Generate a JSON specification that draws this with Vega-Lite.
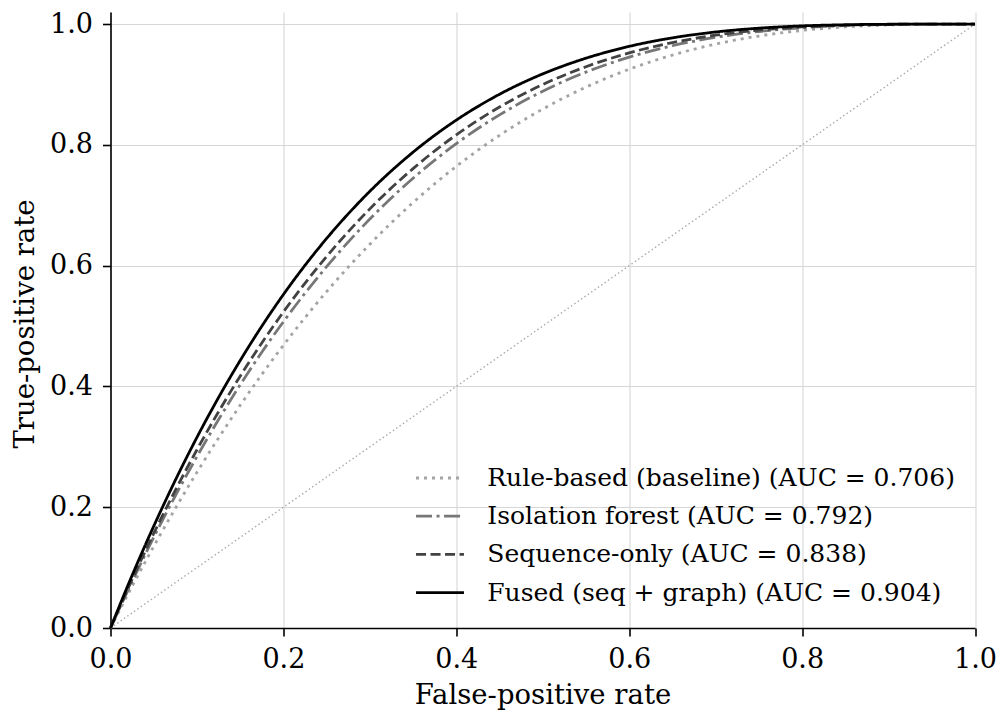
{
  "$schema": "https://vega.github.io/schema/vega-lite/v6.json",
  "autosize": {"type": "none"},
  "padding": {"left": 110.5, "top": 12, "right": 25, "bottom": 83},
  "width": 864.5,
  "height": 616,
  "background": "white",
  "config": {
    "view": {"stroke": null},
    "font": "DejaVu Serif",
    "axis": {
      "labelFont": "DejaVu Serif",
      "labelFontSize": 27,
      "labelColor": "black",
      "titleFont": "DejaVu Serif",
      "titleFontSize": 27.5,
      "titleFontWeight": "normal",
      "titleColor": "black",
      "domainColor": "black",
      "domainWidth": 1.6,
      "tickColor": "black",
      "tickWidth": 1.6,
      "tickSize": 8,
      "labelPadding": 10,
      "labelFlush": false,
      "labelOverlap": false,
      "gridColor": "#d6d6d6",
      "gridWidth": 1.1
    },
    "legend": {
      "labelFont": "DejaVu Serif",
      "labelFontSize": 25,
      "labelColor": "black",
      "labelLimit": 1000
    }
  },
  "datasets": {
    "curves": [
      {"model": "Rule-based (baseline) (AUC = 0.706)", "fpr": 0, "tpr": 0},
      {"model": "Rule-based (baseline) (AUC = 0.706)", "fpr": 0.025, "tpr": 0.0691},
      {"model": "Rule-based (baseline) (AUC = 0.706)", "fpr": 0.05, "tpr": 0.1351},
      {"model": "Rule-based (baseline) (AUC = 0.706)", "fpr": 0.075, "tpr": 0.198},
      {"model": "Rule-based (baseline) (AUC = 0.706)", "fpr": 0.1, "tpr": 0.2578},
      {"model": "Rule-based (baseline) (AUC = 0.706)", "fpr": 0.125, "tpr": 0.3147},
      {"model": "Rule-based (baseline) (AUC = 0.706)", "fpr": 0.15, "tpr": 0.3687},
      {"model": "Rule-based (baseline) (AUC = 0.706)", "fpr": 0.175, "tpr": 0.4198},
      {"model": "Rule-based (baseline) (AUC = 0.706)", "fpr": 0.2, "tpr": 0.4682},
      {"model": "Rule-based (baseline) (AUC = 0.706)", "fpr": 0.25, "tpr": 0.557},
      {"model": "Rule-based (baseline) (AUC = 0.706)", "fpr": 0.3, "tpr": 0.6355},
      {"model": "Rule-based (baseline) (AUC = 0.706)", "fpr": 0.35, "tpr": 0.7045},
      {"model": "Rule-based (baseline) (AUC = 0.706)", "fpr": 0.4, "tpr": 0.7644},
      {"model": "Rule-based (baseline) (AUC = 0.706)", "fpr": 0.45, "tpr": 0.8158},
      {"model": "Rule-based (baseline) (AUC = 0.706)", "fpr": 0.5, "tpr": 0.8593},
      {"model": "Rule-based (baseline) (AUC = 0.706)", "fpr": 0.55, "tpr": 0.8956},
      {"model": "Rule-based (baseline) (AUC = 0.706)", "fpr": 0.6, "tpr": 0.9252},
      {"model": "Rule-based (baseline) (AUC = 0.706)", "fpr": 0.65, "tpr": 0.9487},
      {"model": "Rule-based (baseline) (AUC = 0.706)", "fpr": 0.7, "tpr": 0.9669},
      {"model": "Rule-based (baseline) (AUC = 0.706)", "fpr": 0.75, "tpr": 0.9802},
      {"model": "Rule-based (baseline) (AUC = 0.706)", "fpr": 0.8, "tpr": 0.9895},
      {"model": "Rule-based (baseline) (AUC = 0.706)", "fpr": 0.85, "tpr": 0.9953},
      {"model": "Rule-based (baseline) (AUC = 0.706)", "fpr": 0.9, "tpr": 0.9985},
      {"model": "Rule-based (baseline) (AUC = 0.706)", "fpr": 0.95, "tpr": 0.9998},
      {"model": "Rule-based (baseline) (AUC = 0.706)", "fpr": 1.0, "tpr": 1.0},

      {"model": "Isolation forest (AUC = 0.792)", "fpr": 0, "tpr": 0},
      {"model": "Isolation forest (AUC = 0.792)", "fpr": 0.025, "tpr": 0.0771},
      {"model": "Isolation forest (AUC = 0.792)", "fpr": 0.05, "tpr": 0.1501},
      {"model": "Isolation forest (AUC = 0.792)", "fpr": 0.075, "tpr": 0.219},
      {"model": "Isolation forest (AUC = 0.792)", "fpr": 0.1, "tpr": 0.2839},
      {"model": "Isolation forest (AUC = 0.792)", "fpr": 0.125, "tpr": 0.3451},
      {"model": "Isolation forest (AUC = 0.792)", "fpr": 0.15, "tpr": 0.4026},
      {"model": "Isolation forest (AUC = 0.792)", "fpr": 0.175, "tpr": 0.4566},
      {"model": "Isolation forest (AUC = 0.792)", "fpr": 0.2, "tpr": 0.5071},
      {"model": "Isolation forest (AUC = 0.792)", "fpr": 0.25, "tpr": 0.5983},
      {"model": "Isolation forest (AUC = 0.792)", "fpr": 0.3, "tpr": 0.6772},
      {"model": "Isolation forest (AUC = 0.792)", "fpr": 0.35, "tpr": 0.7448},
      {"model": "Isolation forest (AUC = 0.792)", "fpr": 0.4, "tpr": 0.802},
      {"model": "Isolation forest (AUC = 0.792)", "fpr": 0.45, "tpr": 0.8497},
      {"model": "Isolation forest (AUC = 0.792)", "fpr": 0.5, "tpr": 0.8889},
      {"model": "Isolation forest (AUC = 0.792)", "fpr": 0.55, "tpr": 0.9205},
      {"model": "Isolation forest (AUC = 0.792)", "fpr": 0.6, "tpr": 0.9452},
      {"model": "Isolation forest (AUC = 0.792)", "fpr": 0.65, "tpr": 0.9641},
      {"model": "Isolation forest (AUC = 0.792)", "fpr": 0.7, "tpr": 0.978},
      {"model": "Isolation forest (AUC = 0.792)", "fpr": 0.75, "tpr": 0.9877},
      {"model": "Isolation forest (AUC = 0.792)", "fpr": 0.8, "tpr": 0.9939},
      {"model": "Isolation forest (AUC = 0.792)", "fpr": 0.85, "tpr": 0.9976},
      {"model": "Isolation forest (AUC = 0.792)", "fpr": 0.9, "tpr": 0.9993},
      {"model": "Isolation forest (AUC = 0.792)", "fpr": 0.95, "tpr": 0.9999},
      {"model": "Isolation forest (AUC = 0.792)", "fpr": 1.0, "tpr": 1.0},

      {"model": "Sequence-only (AUC = 0.838)", "fpr": 0, "tpr": 0},
      {"model": "Sequence-only (AUC = 0.838)", "fpr": 0.025, "tpr": 0.0806},
      {"model": "Sequence-only (AUC = 0.838)", "fpr": 0.05, "tpr": 0.1566},
      {"model": "Sequence-only (AUC = 0.838)", "fpr": 0.075, "tpr": 0.228},
      {"model": "Sequence-only (AUC = 0.838)", "fpr": 0.1, "tpr": 0.2952},
      {"model": "Sequence-only (AUC = 0.838)", "fpr": 0.125, "tpr": 0.3581},
      {"model": "Sequence-only (AUC = 0.838)", "fpr": 0.15, "tpr": 0.417},
      {"model": "Sequence-only (AUC = 0.838)", "fpr": 0.175, "tpr": 0.472},
      {"model": "Sequence-only (AUC = 0.838)", "fpr": 0.2, "tpr": 0.5233},
      {"model": "Sequence-only (AUC = 0.838)", "fpr": 0.25, "tpr": 0.6152},
      {"model": "Sequence-only (AUC = 0.838)", "fpr": 0.3, "tpr": 0.694},
      {"model": "Sequence-only (AUC = 0.838)", "fpr": 0.35, "tpr": 0.7607},
      {"model": "Sequence-only (AUC = 0.838)", "fpr": 0.4, "tpr": 0.8166},
      {"model": "Sequence-only (AUC = 0.838)", "fpr": 0.45, "tpr": 0.8626},
      {"model": "Sequence-only (AUC = 0.838)", "fpr": 0.5, "tpr": 0.8999},
      {"model": "Sequence-only (AUC = 0.838)", "fpr": 0.55, "tpr": 0.9294},
      {"model": "Sequence-only (AUC = 0.838)", "fpr": 0.6, "tpr": 0.9523},
      {"model": "Sequence-only (AUC = 0.838)", "fpr": 0.65, "tpr": 0.9694},
      {"model": "Sequence-only (AUC = 0.838)", "fpr": 0.7, "tpr": 0.9816},
      {"model": "Sequence-only (AUC = 0.838)", "fpr": 0.75, "tpr": 0.99},
      {"model": "Sequence-only (AUC = 0.838)", "fpr": 0.8, "tpr": 0.9952},
      {"model": "Sequence-only (AUC = 0.838)", "fpr": 0.85, "tpr": 0.9982},
      {"model": "Sequence-only (AUC = 0.838)", "fpr": 0.9, "tpr": 0.9995},
      {"model": "Sequence-only (AUC = 0.838)", "fpr": 0.95, "tpr": 1.0},
      {"model": "Sequence-only (AUC = 0.838)", "fpr": 1.0, "tpr": 1.0},

      {"model": "Fused (seq + graph) (AUC = 0.904)", "fpr": 0, "tpr": 0},
      {"model": "Fused (seq + graph) (AUC = 0.904)", "fpr": 0.025, "tpr": 0.0871},
      {"model": "Fused (seq + graph) (AUC = 0.904)", "fpr": 0.05, "tpr": 0.1686},
      {"model": "Fused (seq + graph) (AUC = 0.904)", "fpr": 0.075, "tpr": 0.2447},
      {"model": "Fused (seq + graph) (AUC = 0.904)", "fpr": 0.1, "tpr": 0.3157},
      {"model": "Fused (seq + graph) (AUC = 0.904)", "fpr": 0.125, "tpr": 0.3817},
      {"model": "Fused (seq + graph) (AUC = 0.904)", "fpr": 0.15, "tpr": 0.4429},
      {"model": "Fused (seq + graph) (AUC = 0.904)", "fpr": 0.175, "tpr": 0.4997},
      {"model": "Fused (seq + graph) (AUC = 0.904)", "fpr": 0.2, "tpr": 0.5522},
      {"model": "Fused (seq + graph) (AUC = 0.904)", "fpr": 0.25, "tpr": 0.645},
      {"model": "Fused (seq + graph) (AUC = 0.904)", "fpr": 0.3, "tpr": 0.7231},
      {"model": "Fused (seq + graph) (AUC = 0.904)", "fpr": 0.35, "tpr": 0.7879},
      {"model": "Fused (seq + graph) (AUC = 0.904)", "fpr": 0.4, "tpr": 0.841},
      {"model": "Fused (seq + graph) (AUC = 0.904)", "fpr": 0.45, "tpr": 0.8838},
      {"model": "Fused (seq + graph) (AUC = 0.904)", "fpr": 0.5, "tpr": 0.9175},
      {"model": "Fused (seq + graph) (AUC = 0.904)", "fpr": 0.55, "tpr": 0.9435},
      {"model": "Fused (seq + graph) (AUC = 0.904)", "fpr": 0.6, "tpr": 0.9631},
      {"model": "Fused (seq + graph) (AUC = 0.904)", "fpr": 0.65, "tpr": 0.9772},
      {"model": "Fused (seq + graph) (AUC = 0.904)", "fpr": 0.7, "tpr": 0.9869},
      {"model": "Fused (seq + graph) (AUC = 0.904)", "fpr": 0.75, "tpr": 0.9932},
      {"model": "Fused (seq + graph) (AUC = 0.904)", "fpr": 0.8, "tpr": 0.997},
      {"model": "Fused (seq + graph) (AUC = 0.904)", "fpr": 0.85, "tpr": 0.9989},
      {"model": "Fused (seq + graph) (AUC = 0.904)", "fpr": 0.9, "tpr": 0.9997},
      {"model": "Fused (seq + graph) (AUC = 0.904)", "fpr": 0.95, "tpr": 1.0},
      {"model": "Fused (seq + graph) (AUC = 0.904)", "fpr": 1.0, "tpr": 1.0}
    ],
    "chance": [
      {"fpr": 0, "tpr": 0},
      {"fpr": 1, "tpr": 1}
    ]
  },
  "layer": [
    {
      "data": {"name": "chance"},
      "mark": {"type": "line", "color": "#ababab", "strokeWidth": 1.4, "strokeDash": [1.5, 2.6]},
      "encoding": {
        "x": {
          "field": "fpr", "type": "quantitative",
          "scale": {"domain": [0, 1], "nice": false, "zero": false},
          "axis": {
            "title": "False-positive rate",
            "values": [0, 0.2, 0.4, 0.6, 0.8, 1.0],
            "format": ".1f",
            "titleX": 432,
            "titleY": 75,
            "titleBaseline": "alphabetic",
            "titleAlign": "center"
          }
        },
        "y": {
          "field": "tpr", "type": "quantitative",
          "scale": {"domain": [0, 1.02], "nice": false, "zero": false},
          "axis": {
            "title": "True-positive rate",
            "values": [0, 0.2, 0.4, 0.6, 0.8, 1.0],
            "format": ".1f",
            "titleX": -77.5,
            "titleY": 311.5,
            "titleAngle": -90,
            "titleBaseline": "alphabetic",
            "titleAlign": "center"
          }
        }
      }
    },
    {
      "data": {"name": "curves"},
      "mark": {"type": "line", "strokeWidth": 2.8, "interpolate": "monotone", "strokeCap": "butt"},
      "encoding": {
        "x": {"field": "fpr", "type": "quantitative"},
        "y": {"field": "tpr", "type": "quantitative"},
        "color": {
          "field": "model", "type": "nominal",
          "scale": {
            "domain": ["Rule-based (baseline) (AUC = 0.706)", "Isolation forest (AUC = 0.792)", "Sequence-only (AUC = 0.838)", "Fused (seq + graph) (AUC = 0.904)"],
            "range": ["#a3a3a3", "#777777", "#424242", "#000000"]
          },
          "legend": {
            "title": null,
            "orient": "none",
            "legendX": 310,
            "legendY": 446.5,
            "padding": 0,
            "rowPadding": 5.2,
            "symbolType": "M-1.35,0H1.35",
            "symbolSize": 1260,
            "symbolStrokeWidth": 2.8,
            "labelOffset": 27.75
          }
        },
        "strokeDash": {
          "field": "model", "type": "nominal",
          "scale": {
            "domain": ["Rule-based (baseline) (AUC = 0.706)", "Isolation forest (AUC = 0.792)", "Sequence-only (AUC = 0.838)", "Fused (seq + graph) (AUC = 0.904)"],
            "range": [[3, 5], [16, 4.5, 3, 4.5], [10, 4.5], [1, 0]]
          },
          "legend": {
            "title": null,
            "orient": "none",
            "legendX": 310,
            "legendY": 446.5,
            "padding": 0,
            "rowPadding": 5.2,
            "symbolType": "M-1.35,0H1.35",
            "symbolSize": 1260,
            "symbolStrokeWidth": 2.8,
            "labelOffset": 27.75
          }
        }
      }
    }
  ]
}
